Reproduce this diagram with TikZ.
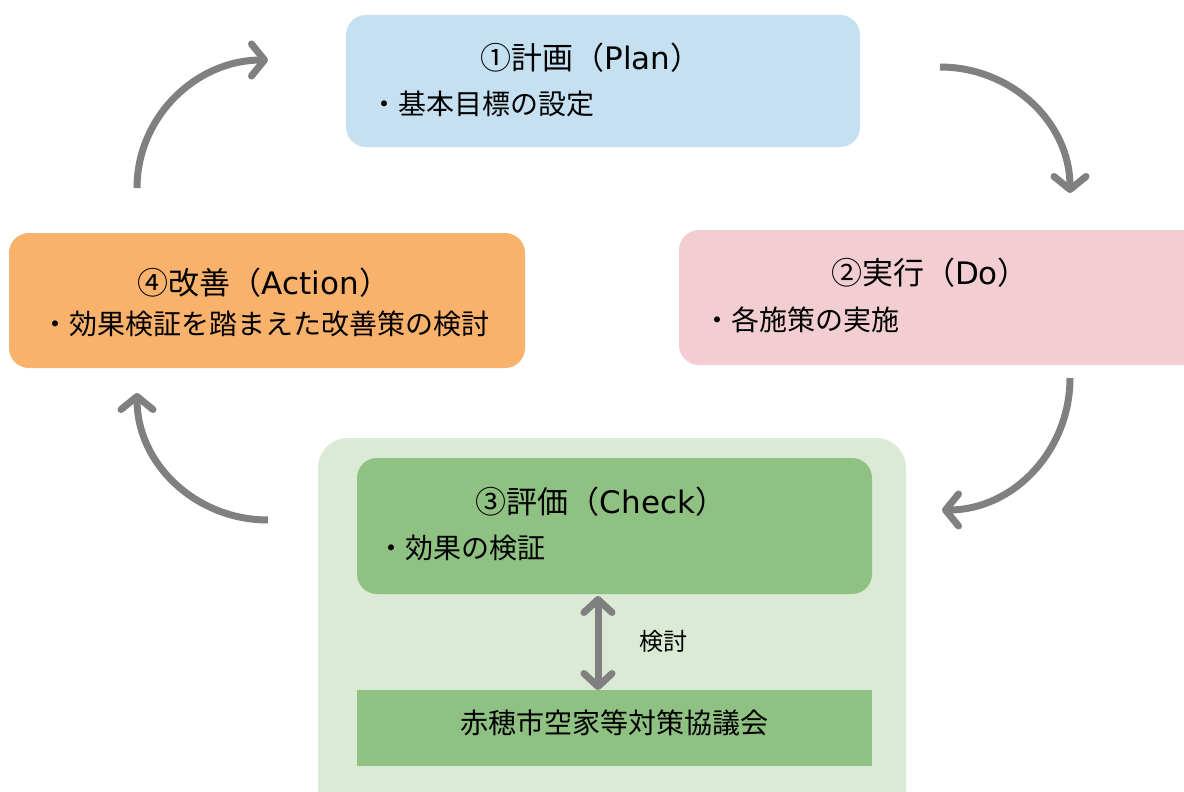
\documentclass[tikz,border=0pt]{standalone}
\usepackage{fontspec}
\setmainfont{Noto Sans CJK JP}
\newfontfamily\lat{DejaVu Sans}
\usetikzlibrary{arrows.meta,calc}
\definecolor{planC}{HTML}{C5E1F1}
\definecolor{doC}{HTML}{F2CED3}
\definecolor{actC}{HTML}{F9B26C}
\definecolor{outerC}{HTML}{DAEAD4}
\definecolor{innerC}{HTML}{8FC183}
\definecolor{arrC}{HTML}{808080}
\tikzset{
  box/.style={rounded corners=20pt, draw=none},
  ttl/.style={font=\fontsize{31}{35}\selectfont, inner sep=0pt, anchor=center},
  bul/.style={font=\fontsize{28}{32}\selectfont, inner sep=0pt, anchor=west},
  cyc/.style={draw=arrC, line width=7pt, -{Straight Barb[length=13pt,width=32pt,round]}},
  dbl/.style={draw=arrC, line width=7pt, {Straight Barb[length=13pt,width=28pt,round]}-{Straight Barb[length=13pt,width=28pt,round]}}
}
\begin{document}
\begin{tikzpicture}[x=1pt,y=-1pt]
\clip (0,0) rectangle (1184,792);
\fill[white] (0,0) rectangle (1184,792);
% boxes
\fill[planC, box] (346,15) rectangle (860,147);
\fill[doC, box] (679,230) rectangle (1210,365);
\fill[actC, box] (9,233) rectangle (525,368);
\fill[outerC, rounded corners=30pt] (318,438) rectangle (906,820);
\fill[innerC, box] (357,458) rectangle (872,594);
\fill[innerC] (357,690) rectangle (872,766);
% texts
\node[ttl] (planT) at (591,58) {①計画（{\lat Plan}）};
\node[bul] (planB) at (370,104) {・基本目標の設定};
\node[ttl] (doT) at (930,273) {②実行（{\lat Do}）};
\node[bul] (doB) at (703,320) {・各施策の実施};
\node[ttl] (actT) at (264,283) {④改善（{\lat Action}）};
\node[bul] (actB) at (41,324) {・効果検証を踏まえた改善策の検討};
\node[ttl] (chkT) at (601,502) {③評価（{\lat Check}）};
\node[bul] (chkB) at (377,548) {・効果の検証};
\node[ttl, font=\fontsize{28}{32}\selectfont] (council) at (614,723) {赤穂市空家等対策協議会};
\node[font=\fontsize{24}{28}\selectfont, inner sep=0pt] (kento) at (663,641) {検討};
% cycle arrows
\coordinate (a1s) at (940,67); \coordinate (a1e) at (1070,193);
\coordinate (a2s) at (1070,378); \coordinate (a2e) at (942,510);
\coordinate (a3s) at (268,520); \coordinate (a3e) at (137,393);
\coordinate (a4s) at (137,188); \coordinate (a4e) at (268,60);
\draw[cyc] (a1s) .. controls (1011,67) and (1070,122) .. (a1e);
\draw[cyc] (a2s) .. controls (1070,451) and (1013,510) .. (a2e);
\draw[cyc] (a3s) .. controls (196,520) and (137,464) .. (a3e);
\draw[cyc] (a4s) .. controls (137,117) and (196,60) .. (a4e);
% double arrow
\coordinate (d1) at (598,596); \coordinate (d2) at (598,690);
\draw[dbl] (d1) -- (d2);
\end{tikzpicture}
\end{document}
